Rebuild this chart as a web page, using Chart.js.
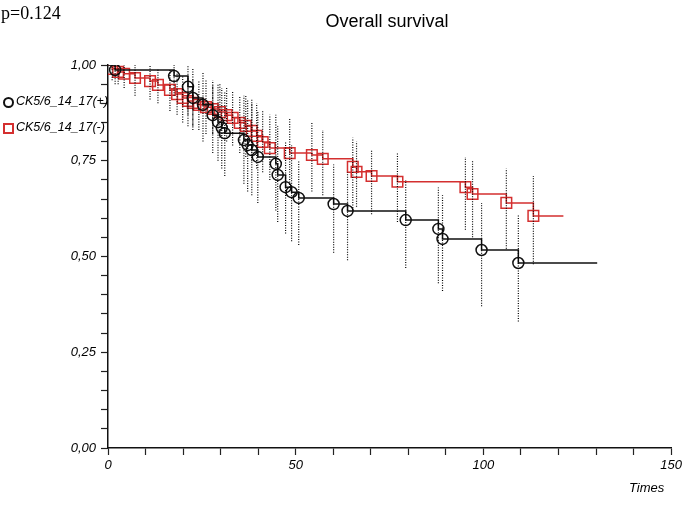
<!DOCTYPE html>
<html>
<head>
<meta charset="utf-8">
<script src="https://cdn.jsdelivr.net/npm/chart.js@4.4.1/dist/chart.umd.min.js"></script>
<style>
  body { margin: 0; background: #fff; }
  #wrap { position: relative; width: 685px; height: 513px; }
  #chart { position: absolute; left: 0; top: 0; }
  .txt { position: absolute; white-space: nowrap; color: #000; }
  #pval { left: 1px; top: 3px; font: 18px "Liberation Serif", serif; }
  #title { left: 387px; top: 11px; transform: translateX(-50%); font: 18px "Liberation Sans", Arial, sans-serif; }
  #times { left: 629px; top: 480px; font: italic 13px "Liberation Sans", Arial, sans-serif; }
  .leg { font: italic 12.5px "Liberation Sans", Arial, sans-serif; }
  .sym { position: absolute; box-sizing: border-box; width: 11px; height: 11px; }
  #symPos { left: 3px; top: 97px; border: 2px solid #111; border-radius: 50%; }
  #symNeg { left: 3px; top: 123px; border: 2px solid #d42f2f; }
</style>
</head>
<body>
<div id="wrap">
  <canvas id="chart" width="685" height="513"></canvas>
  <div class="txt" id="pval">p=0.124</div>
  <div class="txt" id="title">Overall survival</div>
  <div class="txt" id="times">Times</div>
  <div class="sym" id="symPos"></div>
  <div class="txt leg" style="left:16px;top:94px;">CK5/6_14_17(+)</div>
  <div class="sym" id="symNeg"></div>
  <div class="txt leg" style="left:16px;top:120px;">CK5/6_14_17(-)</div>
</div>
<script>
// group (+): event times, survival, confidence bounds
const posTimes = [1.9, 17.6, 21.3, 22.6, 25.3, 27.9, 29.3, 30.3, 31.1, 36.2, 37.2, 38.3, 39.9, 44.7, 45.2, 47.3, 48.9, 50.8, 60.1, 63.8, 79.3, 88.0, 89.1, 99.5, 109.3];
const posSurv  = [0.987, 0.971, 0.943, 0.914, 0.896, 0.869, 0.851, 0.836, 0.822, 0.804, 0.791, 0.778, 0.760, 0.742, 0.713, 0.681, 0.668, 0.653, 0.637, 0.619, 0.595, 0.572, 0.546, 0.517, 0.483];
const posLow   = [0.95, 0.92, 0.87, 0.83, 0.80, 0.77, 0.75, 0.73, 0.71, 0.69, 0.67, 0.66, 0.64, 0.62, 0.59, 0.56, 0.54, 0.53, 0.51, 0.49, 0.47, 0.43, 0.41, 0.37, 0.33];
const posHigh  = [1.00, 1.00, 1.00, 0.99, 0.98, 0.96, 0.95, 0.94, 0.93, 0.92, 0.91, 0.90, 0.88, 0.87, 0.84, 0.80, 0.79, 0.75, 0.74, 0.72, 0.70, 0.68, 0.66, 0.64, 0.61];
const posEnd = 130.3;

// group (-)
const negTimes = [1.1, 2.7, 4.3, 7.2, 11.2, 13.3, 16.5, 18.4, 19.9, 21.3, 22.6, 24.2, 26.1, 27.9, 29.8, 31.6, 33.2, 35.1, 36.7, 38.3, 39.6, 41.2, 43.1, 48.4, 54.3, 57.2, 65.2, 66.2, 70.2, 77.1, 95.2, 97.1, 106.1, 113.3];
const negSurv  = [0.990, 0.982, 0.977, 0.966, 0.958, 0.948, 0.935, 0.924, 0.914, 0.906, 0.901, 0.896, 0.890, 0.885, 0.877, 0.869, 0.862, 0.849, 0.841, 0.828, 0.815, 0.799, 0.783, 0.770, 0.765, 0.755, 0.734, 0.721, 0.710, 0.695, 0.681, 0.663, 0.640, 0.606];
const negLow   = [0.96, 0.95, 0.94, 0.92, 0.91, 0.90, 0.88, 0.87, 0.85, 0.84, 0.84, 0.83, 0.82, 0.82, 0.81, 0.80, 0.79, 0.77, 0.76, 0.75, 0.73, 0.72, 0.70, 0.68, 0.67, 0.66, 0.62, 0.63, 0.61, 0.59, 0.57, 0.55, 0.52, 0.48];
const negHigh  = [1.00, 1.00, 1.00, 1.00, 1.00, 0.99, 0.99, 0.98, 0.97, 0.97, 0.96, 0.96, 0.96, 0.95, 0.95, 0.94, 0.93, 0.92, 0.92, 0.91, 0.90, 0.88, 0.87, 0.86, 0.85, 0.83, 0.81, 0.80, 0.78, 0.77, 0.76, 0.75, 0.73, 0.71];
const negEnd = 121.3;

const xMax = 150;
const xLabelEvery = 50;
const yLabelEvery = 0.25;

const RED = '#d42f2f';

function stepData(times, surv, end) {
  const pts = [{x: 0, y: 1}];
  times.forEach((t, i) => pts.push({x: t, y: surv[i]}));
  pts.push({x: end, y: surv[surv.length - 1]});
  return pts;
}
function markerRadius(times, r) {
  return [0].concat(times.map(() => r), [0]);
}
function ciData(times, low, high) {
  const pts = [];
  times.forEach((t, i) => {
    pts.push({x: t, y: low[i]}, {x: t, y: high[i]}, {x: t, y: null});
  });
  return pts;
}

const ciStyle = {
  borderColor: '#000',
  borderWidth: 1.2,
  borderDash: [1, 1.5],
  pointRadius: 0,
  spanGaps: false,
  fill: false
};

new Chart(document.getElementById('chart'), {
  type: 'line',
  data: {
    datasets: [
      Object.assign({ data: ciData(posTimes, posLow, posHigh) }, ciStyle),
      Object.assign({ data: ciData(negTimes, negLow, negHigh) }, ciStyle),
      {
        label: 'CK5/6_14_17(+)',
        data: stepData(posTimes, posSurv, posEnd),
        stepped: 'before',
        borderColor: '#111',
        borderWidth: 1.5,
        pointStyle: 'circle',
        pointRadius: markerRadius(posTimes, 5.5),
        pointBorderColor: '#111',
        pointBorderWidth: 1.5,
        pointBackgroundColor: 'rgba(0,0,0,0)',
        fill: false
      },
      {
        label: 'CK5/6_14_17(-)',
        data: stepData(negTimes, negSurv, negEnd),
        stepped: 'before',
        borderColor: RED,
        borderWidth: 1.5,
        pointStyle: 'rect',
        pointRadius: markerRadius(negTimes, 7.5),
        pointBorderColor: RED,
        pointBorderWidth: 1.5,
        pointBackgroundColor: 'rgba(0,0,0,0)',
        fill: false
      }
    ]
  },
  options: {
    responsive: false,
    animation: false,
    events: [],
    layout: { padding: { left: 0, top: 65, right: 13, bottom: 35 } },
    plugins: {
      legend: { display: false },
      title: { display: false },
      tooltip: { enabled: false }
    },
    scales: {
      x: {
        type: 'linear',
        min: 0,
        max: xMax,
        afterFit: s => { s.height = 30; },
        grid: { drawOnChartArea: false, drawTicks: true, tickLength: 7, tickColor: '#222', tickWidth: 1.2 },
        border: { display: true, color: '#111', width: 1.5 },
        ticks: {
          stepSize: 10,
          autoSkip: false,
          maxRotation: 0,
          padding: 3,
          color: '#000',
          font: { family: '"Liberation Sans", Arial, sans-serif', size: 13, style: 'italic' },
          callback: v => (v % xLabelEvery === 0 ? String(v) : '')
        }
      },
      y: {
        type: 'linear',
        min: 0,
        max: 1,
        afterFit: s => { s.width = 108; },
        grid: { drawOnChartArea: false, drawTicks: true, tickLength: 7, tickColor: '#222', tickWidth: 1.2 },
        border: { display: true, color: '#111', width: 1.5 },
        ticks: {
          stepSize: 0.05,
          autoSkip: false,
          padding: 5,
          color: '#000',
          font: { family: '"Liberation Sans", Arial, sans-serif', size: 13, style: 'italic' },
          callback: v => {
            const k = v / yLabelEvery;
            return Math.abs(k - Math.round(k)) < 1e-6 ? v.toFixed(2).replace('.', ',') : '';
          }
        }
      }
    }
  }
});
</script>
</body>
</html>
